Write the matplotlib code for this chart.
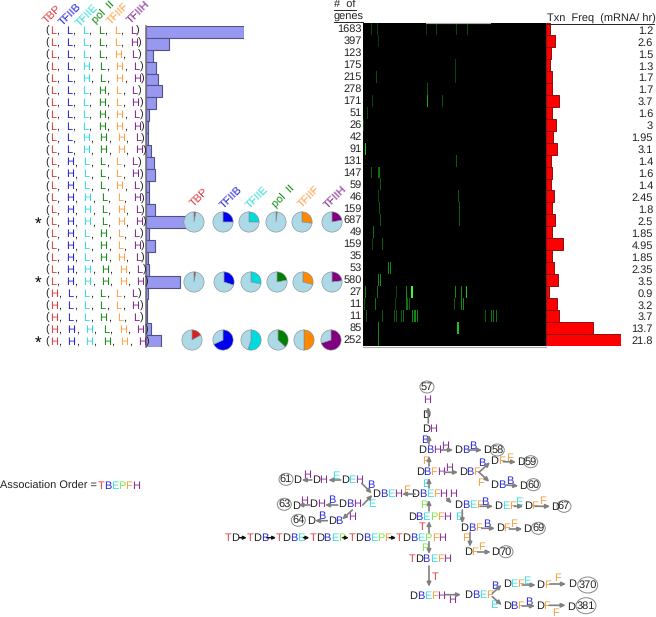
import matplotlib
matplotlib.use("Agg")
import matplotlib.pyplot as plt
import numpy as np
from matplotlib.patches import Ellipse
from matplotlib.colors import LinearSegmentedColormap

plt.rcParams['font.family'] = ['Liberation Sans', 'DejaVu Sans']
plt.rcParams['text.hinting'] = 'no_hinting'
plt.rcParams['text.hinting_factor'] = 1

W, H = 656, 617
FS = 7.7
LFS = 8.2
FPX = FS * 100 / 72

# ---------- data ----------
factors = ['TBP', 'TFIIB', 'TFIIE', 'pol  II', 'TFIIF', 'TFIIH']
states = ['LLLLLL', 'LLLLLH', 'LLLLHL', 'LLHLHL', 'LLHLHH', 'LLLHLL', 'LLLHLH', 'LLLHHL', 'LLLHHH',
          'LLHHHL', 'LLHHHH', 'LHLLLL', 'LHLLLH', 'LHLLHL', 'LHHLLH', 'LHHLHL', 'LHHLHH', 'LHLHLL',
          'LHLHLH', 'LHLHHL', 'LHHHHL', 'LHHHHH', 'HLLLLL', 'HLLLLH', 'HLLHLL', 'HHHLHH', 'HHHHHH']
gene_counts = [1683, 397, 123, 175, 215, 278, 171, 51, 26, 42, 91, 131, 147, 59, 46, 159, 687, 49,
               159, 35, 53, 580, 27, 11, 11, 85, 252]
freq_labels = ['1.2', '2.6', '1.5', '1.3', '1.7', '1.7', '3.7', '1.6', '3', '1.95', '3.1', '1.4', '1.6',
               '1.4', '2.45', '1.8', '2.5', '1.85', '4.95', '1.85', '2.35', '3.5', '0.9', '3.2', '3.7',
               '13.7', '21.8']
txn_freq = [float(v) for v in freq_labels]
starred_rows = [16, 21, 26]

pie_row_1 = [0.03, 0.25, 0.25, 0.02, 0.27, 0.22]
pie_row_2 = [0.03, 0.30, 0.28, 0.22, 0.29, 0.23]
pie_row_3 = [0.17, 0.68, 0.55, 0.37, 0.50, 0.70]

# heatmap stripes: one (column, level) list per row
stripes = [
    [(8, .3), (14, .3), (63, .25), (73, .3), (93, .3), (104, .35)],
    [(15, .25)],
    [],
    [(92, .3)],
    [(13, .35), (92, .3)],
    [(64, .4)],
    [(9, .3), (64, .7), (79, .35)],
    [(4, .3)],
    [(0, .3)],
    [],
    [(2, .8)],
    [(93, .4)],
    [(8, .4), (15, .5), (16, .5)],
    [(17, .4)],
    [(15, .3), (95, .4)],
    [(16, .4), (96, .4)],
    [(17, .4), (96, .4)],
    [(10, .5)],
    [(9, .3), (19, .4)],
    [],
    [(25, .6), (27, .6)],
    [(15, .6), (17, .6)],
    [(2, .6), (14, .5), (33, .3), (43, .6), (48, 1.0), (49, 1.0), (92, .6), (98, .6), (103, .8)],
    [(1, .4), (12, .5), (32, .3), (43, .5), (44, .5), (46, .4), (91, .4), (98, .6), (100, .6)],
    [(3, .4), (19, .4), (31, .4), (33, .4), (38, .4), (40, .5), (49, .6), (51, .6), (52, .6), (54, .6),
     (122, .4), (128, .5), (130, .5), (133, .5)],
    [(15, .6), (94, .8), (95, .8)],
    [(15, .6)],
]
N_COLS = 183

# ---------- styles ----------
factor_colors = ['#e03a3a', '#2020d8', '#30dcdc', '#108a10', '#ff9f40', '#80208f']
pie_colors = ['#d82020', '#0000f0', '#00dcdc', '#008000', '#ff8800', '#800080']
letter_colors = {'T': '#e84040', 'D': '#202020', 'B': '#2a2ad8', 'E': '#40dcdc', 'P': '#80e850',
                 'F': '#f5a040', 'H': '#8a2a9a'}
adv = {'T': .611, 'D': .722, 'B': .667, 'E': .667, 'P': .667, 'F': .611, 'H': .722}

fig = plt.figure(figsize=(W / 100, H / 100), dpi=100, facecolor='white')


def px_axes(x0, y0, x1, y1, **kw):
    return fig.add_axes([x0 / W, 1 - y1 / H, (x1 - x0) / W, (y1 - y0) / H], **kw)


canvas = px_axes(0, 0, W, H)
canvas.set_xlim(0, W)
canvas.set_ylim(H, 0)
canvas.axis('off')
canvas.set_zorder(10)

n = len(states)
rows = np.arange(n)

# ---------- left: state tuples ----------
hdr_x = [52, 70, 87, 104, 118, 138]
hdr_y = [14, 14, 15, 13, 14, 12]
for name, c, x, y in zip(factors, factor_colors, hdr_x, hdr_y):
    canvas.text(x, y, name, color=c, rotation=45, ha='center', va='center', fontsize=LFS)

for r, st in enumerate(states):
    y = 31 + r * 11.96
    canvas.text(45.5, y, '(', color='#222222', ha='left', va='center', fontsize=FS)
    x = 49.7
    for ch, c in zip(st, factor_colors):
        canvas.text(x, y, ch, color=c, ha='left', va='center', fontsize=LFS)
        w = adv['H'] if ch == 'H' else 0.556
        if c != factor_colors[-1]:
            canvas.text(x + w * FPX + 0.4, y, ',', color='#222222', ha='left', va='center', fontsize=FS)
            x += 16 + (1.7 if ch == 'H' else 0)
        else:
            canvas.text(x + w * FPX + 0.4, y, ')', color='#222222', ha='left', va='center', fontsize=FS)
    if r in starred_rows:
        canvas.text(38, y + 1.5, '*', color='black', ha='center', va='center', fontsize=12)

# ---------- left bars ----------
ax_bar = px_axes(146, 26, 146 + 97.5, 347)
ax_bar.patch.set_alpha(0)
ax_bar.barh(rows, gene_counts, height=1, color='#9898f0', edgecolor='#50508a', linewidth=0.8)
ax_bar.set_xlim(0, 1683)
ax_bar.set_ylim(n - .5, -.5)
ax_bar.set_xticks([])
ax_bar.set_yticks([])
for s in ['top', 'right', 'bottom']:
    ax_bar.spines[s].set_visible(False)
ax_bar.spines['left'].set_color('#777777')
ax_bar.spines['left'].set_linewidth(1.2)

# ---------- pies ----------
pie_lab_x = [199, 231, 257, 284, 309, 335]
for name, c, x in zip(factors, factor_colors, pie_lab_x):
    canvas.text(x, 197, name, color=c, rotation=45, ha='center', va='center', fontsize=LFS)

pie_xs = [[194, 223, 249, 276, 302, 332], [194, 224, 251, 277, 303, 332], [192, 223, 251, 278, 304, 331]]
pie_ys = [222, 282, 340]
for vals, xs, yc in zip([pie_row_1, pie_row_2, pie_row_3], pie_xs, pie_ys):
    for v, x, c in zip(vals, xs, pie_colors):
        a = px_axes(x - 11, yc - 11, x + 11, yc + 11)
        a.pie([v, 1 - v], colors=[c, '#add8e6'], startangle=90, counterclock=False, radius=0.92,
              wedgeprops=dict(edgecolor='#808890', linewidth=0.4))
        a.set_xlim(-1, 1)
        a.set_ylim(-1, 1)

# ---------- heatmap ----------
matrix = np.zeros((n, N_COLS))
for r, row in enumerate(stripes):
    for col, level in row:
        matrix[r, col] = level
ax_hm = px_axes(363, 23, 546, 346)
green_map = LinearSegmentedColormap.from_list('g', [(0, 'black'), (.6, '#108a10'), (1, '#30ff30')])
ax_hm.imshow(matrix, aspect='auto', cmap=green_map, vmin=0, vmax=1, interpolation='nearest')
ax_hm.set_xticks([])
ax_hm.set_yticks([])
for s in ax_hm.spines.values():
    s.set_visible(False)
canvas.plot([363, 546], [346.5, 346.5], color='#aaaaaa', lw=0.8)
canvas.plot([426, 490], [22.7, 22.7], color='#aaaaaa', lw=0.8)

for r, cnt in enumerate(gene_counts):
    canvas.text(361.5, 29.5 + r * 11.94, str(cnt), color='#222222', ha='right', va='center', fontsize=FS)

canvas.text(334, 5, '#  of', color='#222222', ha='left', va='center', fontsize=FS)
canvas.plot([334, 356], [10, 10], color='#222222', lw=0.7)
canvas.text(334, 17, 'genes', color='#222222', ha='left', va='center', fontsize=FS)
canvas.plot([334, 363], [22, 22], color='#222222', lw=0.7)
canvas.text(547, 19, 'Txn  Freq  (mRNA/ hr)', color='#222222', ha='left', va='center', fontsize=FS)
canvas.plot([547, 654], [23.5, 23.5], color='#222222', lw=0.7)

# ---------- red bars ----------
ax_red = px_axes(546, 23, 621, 346)
ax_red.patch.set_alpha(0)
ax_red.barh(rows, txn_freq, height=1, color='#ff0000', edgecolor='#8a1010', linewidth=0.7)
ax_red.set_xlim(0, 21.8)
ax_red.set_ylim(n - .5, -.5)
ax_red.axis('off')
for r, lab in enumerate(freq_labels):
    canvas.text(653, 30.7 + r * 11.95, lab, color='#222222', ha='right', va='center', fontsize=FS)

# ---------- association order ----------
canvas.text(0, 485.7, 'Association Order =', color='#222222', ha='left', va='center', fontsize=FS)


def word(x, y, s):
    for ch in s:
        canvas.text(x, y, ch, color=letter_colors[ch], ha='left', va='center', fontsize=LFS)
        x += adv[ch] * FPX


word(97.3, 485.7, 'TBEPFH')

# ---------- association network ----------
nodes = [
    ('D', 421.7, 415), ('DH', 421.7, 428.7), ('DBH', 418, 450), ('DB', 454, 450), ('D', 482.7, 450),
    ('DBFH', 415.7, 472.3), ('DBF', 458.7, 472.3), ('DF', 490, 461), ('D', 516.7, 461.7),
    ('DB', 490, 485.3), ('D', 518.7, 485.7), ('DBEFH', 411, 494.3), ('DBEF', 454, 505),
    ('DEF', 494, 506.3), ('DF', 523.7, 506.3), ('D', 550.7, 507), ('DBF', 460.3, 528.3),
    ('DF', 495.7, 528.3), ('D', 523, 529), ('DF', 463.7, 551.7), ('D', 491, 552.3),
    ('DBEPFH', 407.7, 516.7), ('TDBEPFH', 396, 537.7), ('TDBEFH', 408.3, 558.7), ('DBEFH', 409, 596),
    ('DBEF', 464, 595.3), ('DEF', 502.7, 584.3), ('DF', 536, 585), ('D', 568.3, 584),
    ('DBF', 502.7, 606), ('DF', 535.7, 605.7), ('D', 566.7, 606.7),
    ('TD', 225, 537.7), ('TDB', 246.7, 537.7), ('TDBE', 276, 537.7), ('TDBEP', 309.3, 537.7),
    ('TDBEPF', 348.7, 537.7), ('DBEH', 372.3, 494), ('D', 293.3, 480.3), ('DH', 311.7, 480.3),
    ('DEH', 340.7, 480.3), ('D', 291.7, 505.7), ('DH', 309, 504.3), ('DBH', 338.3, 504.3),
    ('D', 306.7, 521), ('DB', 327.7, 521),
]
for s, x, y in nodes:
    word(x, y, s)

edge_labels = [
    ('H', 427.5, 400), ('B', 425, 440), ('H', 445, 446), ('B', 472.7, 445.7), ('F', 425, 461),
    ('H', 449.3, 467.7), ('B', 481.7, 463.3), ('F', 480, 482.7), ('F', 509, 457.7), ('B', 509.3, 481),
    ('E', 425.3, 484.3), ('H', 452.7, 494.5), ('B', 484.3, 502), ('E', 519, 502), ('F', 542.7, 500.7),
    ('E', 458.3, 516.7), ('B', 486.7, 524.3), ('F', 513.3, 524.3), ('F', 465.7, 538.3), ('F', 481.7, 547.3),
    ('P', 423.3, 504.7), ('T', 422.3, 527.3), ('P', 424.3, 547.7), ('T', 435.3, 576.7), ('H', 452.3, 600.3),
    ('B', 494.7, 586), ('E', 493.7, 605), ('E', 526.7, 580.7), ('F', 557.7, 578), ('B', 528.3, 602),
    ('F', 555.3, 612.7), ('F', 406.7, 490), ('H', 307, 475), ('E', 335.7, 476), ('B', 370.7, 485.3),
    ('H', 304.3, 501), ('B', 331.7, 500.3), ('E', 371.3, 504), ('B', 321.7, 516), ('H', 352.3, 517.3),
]
for s, x, y in edge_labels:
    canvas.text(x, y, s, color=letter_colors[s], ha='center', va='center', fontsize=LFS)

gray_arrows = [
    (428.3, 423, 428.3, 407), (441.7, 450, 453, 450), (468, 450, 482, 450), (444.3, 472.3, 458, 472.3),
    (479, 472.3, 490, 462.3), (479, 472.3, 489.3, 481.7), (503.3, 461.7, 516, 462), (506, 485, 518.3, 486),
    (446.7, 498.3, 451.7, 503.3), (480, 506.3, 493, 506.3), (514.3, 506.3, 523.3, 506.3),
    (535, 506.3, 550, 506.3), (462.3, 510, 462.3, 523.3), (481.7, 528.3, 495, 528.3), (509.3, 529, 522.3, 529),
    (470, 532.3, 470, 546.7), (477.7, 552, 490.7, 552), (429, 533, 429, 521), (429, 541.7, 429, 554),
    (429, 566, 429, 586.7), (445.3, 594.7, 461, 594.7), (492.3, 593.3, 501.7, 585), (492.3, 596.7, 501.7, 605),
    (522.3, 585, 535.7, 585), (550, 584, 566, 584), (522.3, 606, 535, 606), (549, 605.3, 565.7, 605.3),
    (429, 511, 429, 500), (429, 488, 429, 478), (429, 466, 429, 456), (429, 444, 429, 435),
    (415, 494, 402, 494), (311.7, 480, 301.7, 480), (340.7, 480, 328.3, 480), (361.7, 483.3, 371.7, 493.3),
    (310, 505, 298.3, 505), (337.7, 505, 325, 505), (362.7, 505, 372.3, 495), (327.3, 520.7, 315, 520.7),
    (352.3, 510, 342.3, 519.3),
]
for x0, y0, x1, y1 in gray_arrows:
    canvas.annotate('', xy=(x1, y1), xytext=(x0, y0),
                    arrowprops=dict(arrowstyle='-|>,head_width=0.12,head_length=0.25', color='#808080',
                                    lw=1.2, shrinkA=0, shrinkB=0))

black_arrows = [(239.3, 246.7), (266.7, 276), (303.3, 309.3), (342.7, 348.7), (389.3, 396)]
for x0, x1 in black_arrows:
    canvas.annotate('', xy=(x1, 537.7), xytext=(x0, 537.7),
                    arrowprops=dict(arrowstyle='-|>,head_width=0.1,head_length=0.2', color='#111111',
                                    lw=1.0, shrinkA=0, shrinkB=0))

circles = [('57', 427, 387, 14, 12), ('58', 497.3, 450, 14, 12), ('59', 530.7, 461.7, 14, 12),
           ('60', 533.3, 484.7, 14, 12), ('67', 564, 506.3, 14, 12), ('69', 538.3, 528.3, 14, 12),
           ('70', 506, 551.7, 14, 12), ('61', 286, 479.3, 14, 12), ('63', 284.3, 504.3, 14, 12),
           ('64', 298.3, 520.3, 14, 12), ('370', 587.7, 585, 20, 16), ('381', 586, 605.7, 20, 16)]
for s, x, y, w, h in circles:
    canvas.add_patch(Ellipse((x, y), w, h, fill=False, edgecolor='#888888', lw=0.7))
    canvas.text(x, y, s, color='#222222', ha='center', va='center', fontsize=FS)

fig.savefig('out.png', dpi=100, facecolor='white')
